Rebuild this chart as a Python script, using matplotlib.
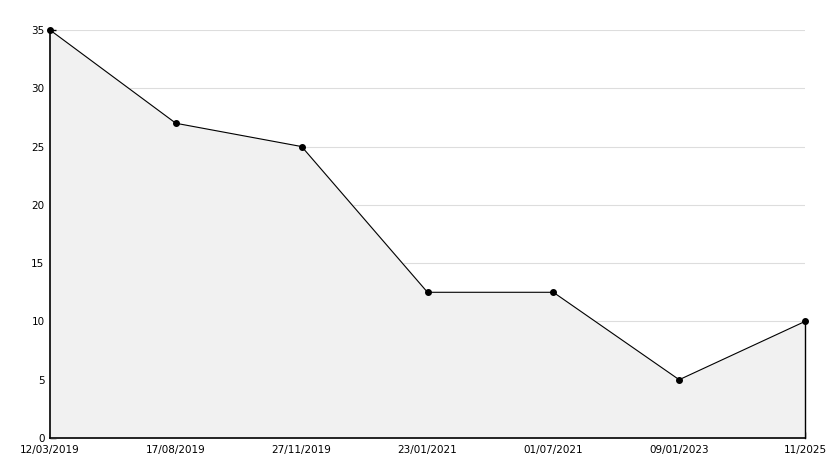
import matplotlib
matplotlib.use("Agg")
import matplotlib.pyplot as plt
from matplotlib.ticker import MultipleLocator
import numpy as np

# %% DATA
dates = ['12/03/2019', '17/08/2019', '27/11/2019', '23/01/2021',
         '01/07/2021', '09/01/2023', '11/2025']
values = [35, 27, 25, 12.5, 12.5, 5, 10]
y_ticks = [0, 5, 10, 15, 20, 25, 30, 35]

# %% PLOT
fig = plt.figure(figsize=(8.34, 4.68), dpi=100)
ax = fig.add_axes([50 / 834, 30 / 468, 755 / 834, 408 / 468])

x = np.arange(len(dates))
ax.fill_between(x, 0, values, color='#f1f1f1', zorder=1)
ax.plot([x[-1], x[-1]], [0, values[-1]], color='black', lw=1,
        zorder=2, clip_on=False)
ax.plot(x, values, color='black', lw=0.8, marker='o', ms=4,
        zorder=3, clip_on=False)

ax.set_xlim(x[0], x[-1])
ax.set_ylim(0, 35)
ax.set_xticks(x)
ax.set_xticklabels(dates)
ax.set_yticks(y_ticks)
ax.yaxis.set_minor_locator(MultipleLocator(1))
ax.grid(axis='y', color='#dddddd', lw=0.8, zorder=0)
ax.set_axisbelow(True)

for side in ('top', 'right'):
    ax.spines[side].set_visible(False)
for side in ('left', 'bottom'):
    ax.spines[side].set_linewidth(1.2)

ax.tick_params(axis='both', which='major', direction='in', length=4,
               width=1, labelsize=7.5, pad=4)
ax.tick_params(axis='y', which='minor', direction='in', length=3, width=1)
ax.tick_params(axis='x', pad=5)

fig.savefig('out.png', dpi=100)
